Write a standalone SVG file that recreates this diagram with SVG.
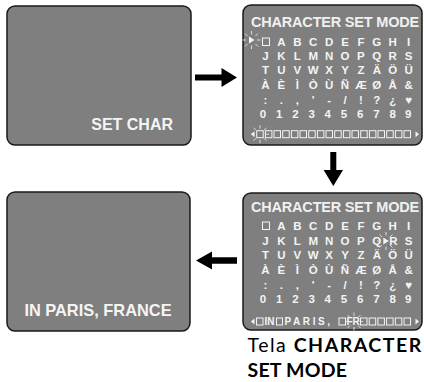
<svg xmlns="http://www.w3.org/2000/svg" width="424" height="382" viewBox="0 0 424 382">
<style>
.scr{fill:#7f7f7f;stroke:#1a1a1a;stroke-width:1.5}
.lbl{font-family:"Liberation Sans",Arial,sans-serif;font-weight:bold;fill:#f4f4f4}
.ttl{font-family:"Liberation Sans",Arial,sans-serif;font-weight:bold;font-size:14.5px;letter-spacing:-0.2px;fill:#f0f0f0}
.g{font-family:"Liberation Sans","DejaVu Sans",Arial,sans-serif;font-weight:bold;font-size:11.5px;fill:#f4f4f4;text-anchor:middle}
.b{font-family:"Liberation Sans",Arial,sans-serif;font-weight:bold;font-size:10px;fill:#f4f4f4}
.sq{fill:none;stroke:#f4f4f4;stroke-width:1}
.tri{fill:#f4f4f4}
.ray{stroke:#e8e8e8;stroke-width:0.9;fill:none}
.arr{fill:#000}
.cap{font-family:Lato,"Open Sans",sans-serif;font-size:19.5px;fill:#000}
</style>
<defs>
<g id="sparkle">
<path class="ray" d="M0,-9V-5.5M0,5.5V9M-9,0H-5.5M5.5,0H9M-6.5,-6.5L-4,-4M4,-4L6.5,-6.5M-6.5,6.5L-4,4M4,4L6.5,6.5"/>
</g>
</defs>

<g id="screen-set-char">
<rect class="scr" x="7" y="6" width="184" height="139" rx="8"/>
<text class="lbl" x="173" y="129.5" font-size="16" text-anchor="end">SET CHAR</text>
</g>

<g id="screen-char-set-1">
<rect class="scr" x="243" y="5" width="179" height="140" rx="8"/>
<text class="ttl" x="251" y="26.5">CHARACTER SET MODE</text>
<rect class="sq" x="262.5" y="38" width="7" height="7.5"/>
<text class="g" y="45.5" x="281.4 297.3 313.2 329.1 345 360.9 376.8 392.7 408.6">ABCDEFGHI</text>
<text class="g" y="59.8" x="265.5 281.4 297.3 313.2 329.1 345 360.9 376.8 392.7 408.6">JKLMNOPQRS</text>
<text class="g" y="74.2" x="265.5 281.4 297.3 313.2 329.1 345 360.9 376.8 392.7 408.6">TUVWXYZÄÖÜ</text>
<text class="g" y="88.8" x="265.5 281.4 297.3 313.2 329.1 345 360.9 376.8 392.7 408.6">ÀÈÌÒÙÑÆØÅ&amp;</text>
<text class="g" y="104" x="265.5 281.4 297.3 313.2 329.1 345 360.9 376.8 392.7 408.6">:.,'-/!?¿♥</text>
<text class="g" y="118" x="263 279.2 295.4 311.6 327.8 344 360.2 376.4 392.6 408.2">0123456789</text>
<path class="tri" d="M249,36.5L254.5,40L249,43.5Z"/>
<use href="#sparkle" x="251.5" y="40"/>
<path class="tri" d="M254.5,131.2L251,134.2L254.5,137.2Z"/>
<g class="sq">
<rect x="256.7" y="130.7" width="6.5" height="7"/><rect x="265.4" y="130.7" width="6.5" height="7"/><rect x="274" y="130.7" width="6.5" height="7"/><rect x="282.7" y="130.7" width="6.5" height="7"/><rect x="291.4" y="130.7" width="6.5" height="7"/><rect x="300" y="130.7" width="6.5" height="7"/><rect x="308.7" y="130.7" width="6.5" height="7"/><rect x="317.4" y="130.7" width="6.5" height="7"/><rect x="326" y="130.7" width="6.5" height="7"/><rect x="334.7" y="130.7" width="6.5" height="7"/><rect x="343.4" y="130.7" width="6.5" height="7"/><rect x="352" y="130.7" width="6.5" height="7"/><rect x="360.7" y="130.7" width="6.5" height="7"/><rect x="369.4" y="130.7" width="6.5" height="7"/><rect x="378" y="130.7" width="6.5" height="7"/><rect x="386.7" y="130.7" width="6.5" height="7"/><rect x="395.4" y="130.7" width="6.5" height="7"/><rect x="404" y="130.7" width="6.5" height="7"/>
</g>
<path class="tri" d="M415.5,131.2L419,134.2L415.5,137.2Z"/>
<use href="#sparkle" x="260" y="134.2"/>
</g>

<g id="screen-char-set-2">
<rect class="scr" x="243" y="193" width="179" height="137" rx="8"/>
<text class="ttl" x="251" y="212">CHARACTER SET MODE</text>
<rect class="sq" x="262.5" y="222" width="7" height="7.5"/>
<text class="g" y="229.5" x="281.4 297.3 313.2 329.1 345 360.9 376.8 392.7 408.6">ABCDEFGHI</text>
<text class="g" y="244.8" x="265.5 281.4 297.3 313.2 329.1 345 360.9 376.8 393.3 408.6">JKLMNOPQRS</text>
<text class="g" y="259.2" x="265.5 281.4 297.3 313.2 329.1 345 360.9 376.8 392.7 408.6">TUVWXYZÄÖÜ</text>
<text class="g" y="274" x="265.5 281.4 297.3 313.2 329.1 345 360.9 376.8 392.7 408.6">ÀÈÌÒÙÑÆØÅ&amp;</text>
<text class="g" y="288.5" x="265.5 281.4 297.3 313.2 329.1 345 360.9 376.8 392.7 408.6">:.,'-/!?¿♥</text>
<text class="g" y="303" x="263 279.2 295.4 311.6 327.8 344 360.2 376.4 392.6 408.2">0123456789</text>
<path class="tri" d="M383.3,237.5L388.8,241L383.3,244.5Z"/>
<use href="#sparkle" x="386" y="241"/>
<path class="tri" d="M254.5,318.5L251,321.5L254.5,324.5Z"/>
<g class="sq">
<rect x="256.5" y="318" width="6.5" height="7"/>
<rect x="276.5" y="318" width="6" height="7"/>
<rect x="339" y="318" width="6.5" height="7"/>
<rect x="360.5" y="318" width="6.5" height="7"/><rect x="369.2" y="318" width="6.5" height="7"/><rect x="377.9" y="318" width="6.5" height="7"/><rect x="386.6" y="318" width="6.5" height="7"/><rect x="395.3" y="318" width="6.5" height="7"/><rect x="404" y="318" width="6.5" height="7"/>
</g>
<text class="b" x="264.5" y="325">IN</text>
<text class="b" x="284.5" y="325" letter-spacing="2.6">PARIS,</text>
<text class="b" x="346.5" y="325">FR</text>
<path class="tri" d="M415.5,318.5L419,321.5L415.5,324.5Z"/>
<use href="#sparkle" x="354" y="321.5"/>
</g>

<g id="screen-result">
<rect class="scr" x="7" y="192" width="183" height="139" rx="8"/>
<text class="lbl" x="98" y="316" font-size="16.4" text-anchor="middle">IN PARIS, FRANCE</text>
</g>

<g id="connectors">
<path class="arr" d="M195,74.5H221.5V68L237,77.5L221.5,87V80.5H195Z"/>
<path class="arr" d="M330.3,152H336.3V170H343L333.3,186L323.6,170H330.3Z"/>
<path class="arr" d="M237,257.3H212V251.5L196,260.5L212,269.5V263.7H237Z"/>
</g>

<g id="caption">
<text class="cap" x="247.5" y="352" letter-spacing="1.5"><tspan>Tela </tspan><tspan font-weight="bold">CHARACTER</tspan></text>
<text class="cap" x="247.5" y="377" font-weight="bold" letter-spacing="0.2">SET MODE</text>
</g>
</svg>
